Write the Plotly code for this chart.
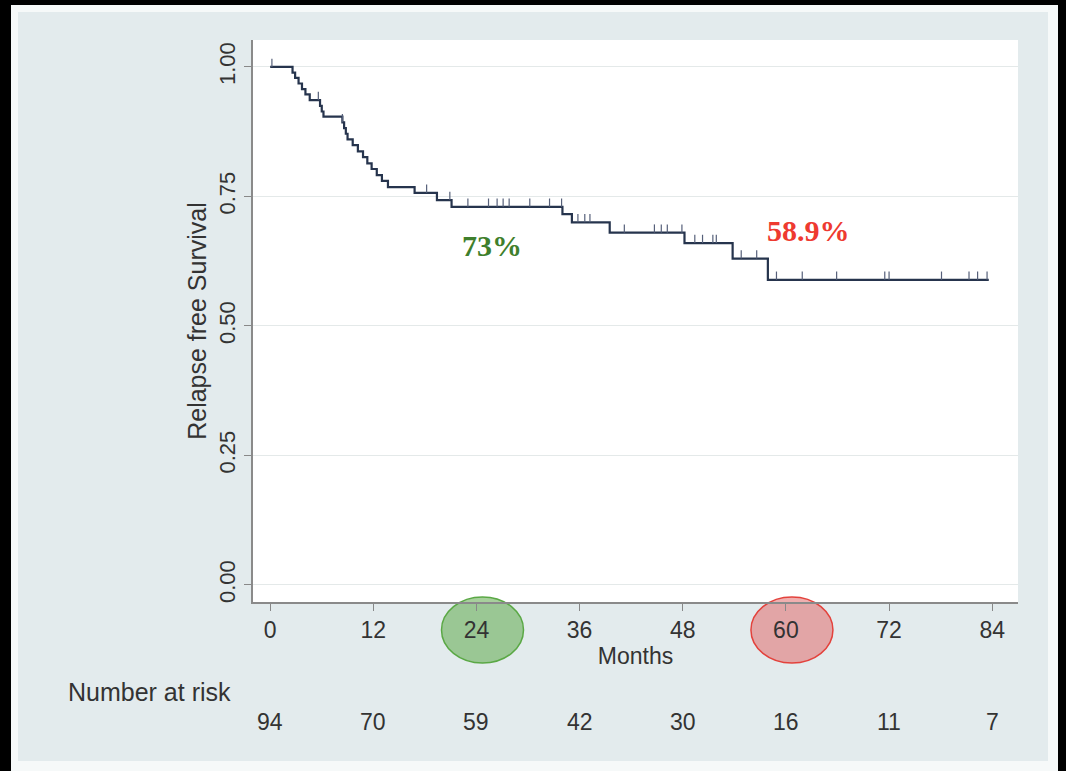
import plotly.graph_objects as go

# Kaplan-Meier estimate: month of each drop and the survival level after it
step_months = [0, 2.6, 2.9, 3.3, 3.7, 4.1, 4.6, 5.8, 6.0, 6.2,
               8.4, 8.6, 8.8, 9.0, 9.6, 10.2, 10.8, 11.3, 11.8, 12.4, 13.0, 13.7,
               16.8, 19.4, 21.1, 34.0, 35.1, 39.5, 48.2, 53.8, 57.9]
survival = [1.000, 0.989, 0.979, 0.968, 0.957, 0.947, 0.936, 0.925, 0.914, 0.904,
            0.893, 0.882, 0.871, 0.860, 0.849, 0.837, 0.826, 0.814, 0.803, 0.791, 0.780, 0.768,
            0.757, 0.743, 0.730, 0.716, 0.700, 0.680, 0.660, 0.630, 0.589]
last_follow_up = 83.6

# censored observations (months)
censored_months = [0.2, 5.6, 8.4, 18.2, 20.9, 23.0, 25.4, 26.4, 27.1, 27.8, 30.2, 32.5,
                   33.9, 35.8, 36.6, 37.2, 41.2, 44.7, 45.5, 46.2, 47.9, 49.4, 50.3,
                   51.5, 51.9, 54.8, 56.6, 58.9, 61.9, 65.9, 71.5, 72.0, 78.1, 81.3,
                   82.3, 83.4]

# risk table
risk_months = [0, 12, 24, 36, 48, 60, 72, 84]
number_at_risk = [94, 70, 59, 42, 30, 16, 11, 7]

# highlighted landmark estimates
landmark_months = [24, 60]
landmark_labels = ["73%", "58.9%"]
landmark_text_colors = ["#3f7f2c", "#ee3a30"]
landmark_fill = ["rgba(95,170,75,0.55)", "rgba(225,95,95,0.5)"]
landmark_line = ["#5aa845", "#e3423c"]

y_ticks = [0.0, 0.25, 0.5, 0.75, 1.0]
y_tick_text = ["0.00", "0.25", "0.50", "0.75", "1.00"]

W, H = 1066, 771
ML, MR, MT, MB = 253, 48, 40, 169
X_RANGE = [-2.0, 87.0]
Y_RANGE = [-0.033, 1.052]
PW, PH = W - ML - MR, H - MT - MB
TEXT = "#333333"


def px_x(px):
    return (px - ML) / PW


def px_y(py):
    return (H - MB - py) / PH


def data_x(m):
    return (m - X_RANGE[0]) / (X_RANGE[1] - X_RANGE[0])


def surv_at(t):
    s = survival[0]
    for m, v in zip(step_months, survival):
        if m <= t:
            s = v
    return s


fig = go.Figure()

# survival curve
fig.add_trace(go.Scatter(
    x=step_months + [last_follow_up],
    y=survival + [survival[-1]],
    mode="lines",
    line=dict(color="#26344d", width=2.2, shape="hv"),
    hoverinfo="skip",
    showlegend=False,
))

# censoring ticks drawn upward from the curve
cx, cy = [], []
for c in censored_months:
    s = surv_at(c)
    cx += [c, c, None]
    cy += [s, s + 0.016, None]
fig.add_trace(go.Scatter(
    x=cx, y=cy, mode="lines",
    line=dict(color="#56607a", width=1.2),
    hoverinfo="skip", showlegend=False,
))

shapes = []


def rect(x0, y0, x1, y1, color):
    shapes.append(dict(type="rect", xref="paper", yref="paper",
                       x0=px_x(x0), x1=px_x(x1), y0=px_y(y1), y1=px_y(y0),
                       fillcolor=color, line=dict(width=0), layer="below"))


# light inner border
rect(11, 5, 1058, 12, "#f6f9f9")
rect(11, 5, 18, 771, "#f6f9f9")
rect(1048, 5, 1058, 771, "#f6f9f9")
rect(11, 761, 1058, 771, "#f6f9f9")
# dark outer frame
rect(0, 0, 1066, 5, "#000000")
rect(0, 0, 11, 771, "#000000")
rect(1058, 0, 1066, 771, "#000000")

# ellipses around landmark ticks
for m, fc, lc in zip(landmark_months, landmark_fill, landmark_line):
    xc = data_x(m + 0.7)
    half_w = 41 / PW
    shapes.append(dict(type="circle", xref="paper", yref="paper",
                       x0=xc - half_w, x1=xc + half_w,
                       y0=px_y(663), y1=px_y(597),
                       fillcolor=fc, line=dict(color=lc, width=1.5), layer="below"))

annotations = []
# landmark labels
label_pos = [(25.8, 0.655), (62.6, 0.685)]
for (lx, ly), txt, col in zip(label_pos, landmark_labels, landmark_text_colors):
    annotations.append(dict(x=lx, y=ly, xref="x", yref="y", text="<b>%s</b>" % txt,
                            showarrow=False, xanchor="center", yanchor="middle",
                            font=dict(family="Liberation Serif", size=30, color=col)))

# risk table
annotations.append(dict(x=px_x(233), y=px_y(692), xref="paper", yref="paper",
                        text="Number at risk", showarrow=False,
                        xanchor="right", yanchor="middle",
                        font=dict(family="Liberation Sans", size=25, color=TEXT)))
for m, n in zip(risk_months, number_at_risk):
    annotations.append(dict(x=m, y=px_y(722), xref="x", yref="paper", text=str(n),
                            showarrow=False, xanchor="center", yanchor="middle",
                            font=dict(family="Liberation Sans", size=23, color=TEXT)))

fig.update_layout(
    width=W, height=H,
    margin=dict(l=ML, r=MR, t=MT, b=MB),
    paper_bgcolor="#e3ebed",
    plot_bgcolor="#ffffff",
    shapes=shapes,
    annotations=annotations,
    font=dict(family="Liberation Sans", color=TEXT),
    xaxis=dict(
        range=X_RANGE, tickvals=risk_months, ticks="outside", ticklen=7,
        tickcolor="#888888", showline=True, linecolor="#8a8a8a", linewidth=1.5,
        showgrid=False, zeroline=False, automargin=False,
        tickfont=dict(size=23, color=TEXT),
        title=dict(text="Months", font=dict(size=23, color=TEXT), standoff=6),
    ),
    yaxis=dict(
        range=Y_RANGE, tickvals=y_ticks, ticktext=y_tick_text,
        tickangle=-90, ticks="outside", ticklen=7, tickcolor="#888888",
        showline=True, linecolor="#8a8a8a", linewidth=1.5,
        showgrid=True, gridcolor="#e4e9e9", gridwidth=1.2, zeroline=False,
        automargin=False,
        tickfont=dict(size=22, color=TEXT),
        title=dict(text="Relapse free Survival", font=dict(size=25, color=TEXT), standoff=2),
    ),
)

fig.write_html("out.html")
